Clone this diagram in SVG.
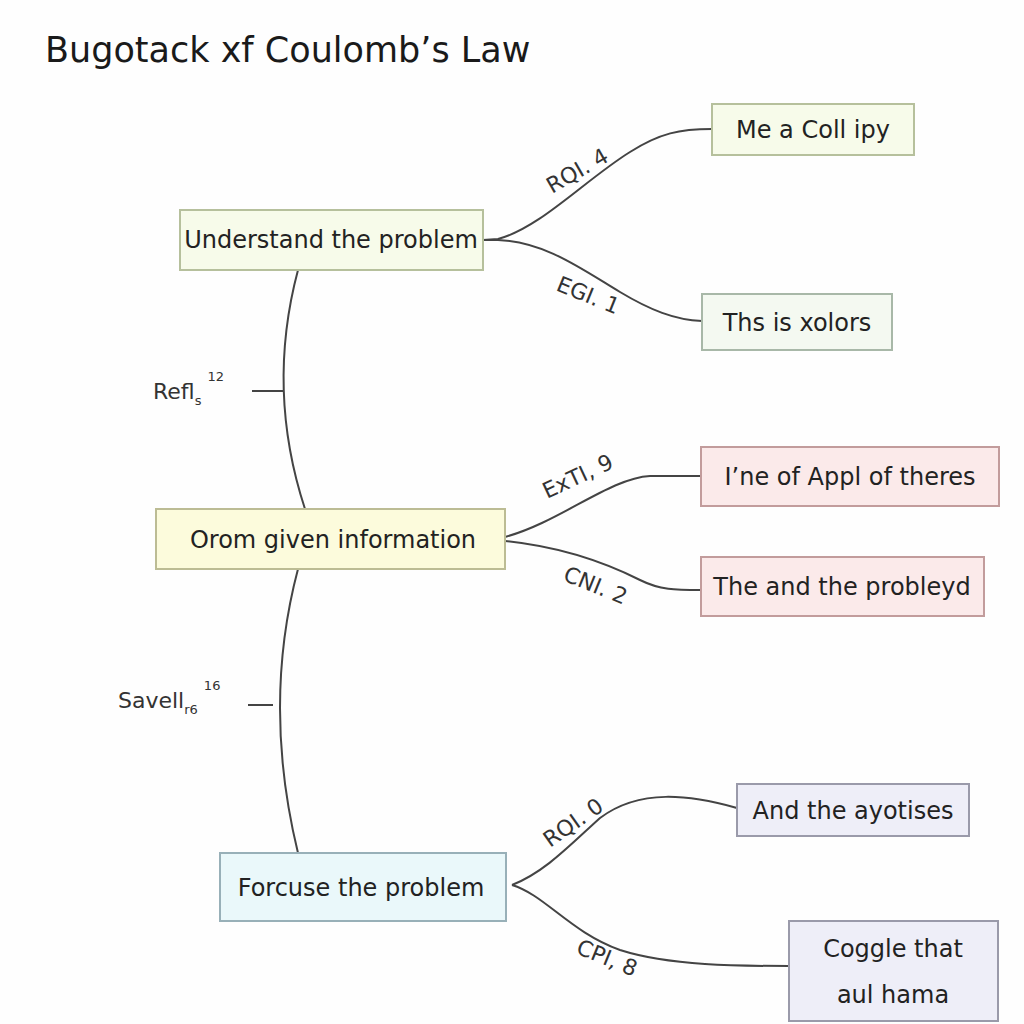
<svg xmlns="http://www.w3.org/2000/svg" width="1024" height="1024" viewBox="0 0 1024 1024">
<style>
.bg{fill:#fefefe}
.title{font-family:"DejaVu Sans","Liberation Sans",sans-serif;font-size:35px;fill:#1a1a1a}
.nt{font-family:"DejaVu Sans","Liberation Sans",sans-serif;font-size:24px;fill:#222;text-anchor:middle}
.lb{font-family:"DejaVu Sans","Liberation Sans",sans-serif;font-size:22px;fill:#333}
.sm{font-size:13px}
.c{fill:none;stroke:#444;stroke-width:2}
.y1{fill:#f7fbea;stroke:#b6c09c;stroke-width:2}
.y2{fill:#fcfbdc;stroke:#bcbc94;stroke-width:2}
.g{fill:#f4f9f1;stroke:#a8b8a8;stroke-width:2}
.r{fill:#fbeaea;stroke:#c29c9c;stroke-width:2}
.b{fill:#eaf8fa;stroke:#98b0b8;stroke-width:2}
.v{fill:#eeeef8;stroke:#9a9aaa;stroke-width:2}
</style>
<rect class="bg" x="0" y="0" width="1024" height="1024"/>
<text class="title" x="45" y="62">Bugotack xf Coulomb’s Law</text>

<g id="connectors">
<path class="c" d="M483 240 L498 239 C540 228 585 180 630 152 C660 133 680 129 712 129"/>
<path class="c" d="M483 240 L498 240 C545 242 580 268 620 292 C650 310 675 320 702 321"/>
<path class="c" d="M298 270 Q266 390 305 509"/>
<line class="c" x1="252" y1="391" x2="284" y2="391"/>
<path class="c" d="M505 537 C560 522 610 478 650 476 L701 476"/>
<path class="c" d="M505 541 C555 546 600 560 640 580 C660 590 675 590 701 590"/>
<path class="c" d="M298 569 Q262 705 298 853"/>
<line class="c" x1="248" y1="705" x2="273" y2="705"/>
<path class="c" d="M512 885 C545 872 570 845 600 818 C640 788 690 795 737 808"/>
<path class="c" d="M512 885 C545 895 570 932 620 950 C670 966 740 966 789 966"/>
</g>

<g id="labels">
<text class="lb" transform="translate(552,194) rotate(-30)">RQI. 4</text>
<text class="lb" transform="translate(555,290) rotate(22)">EGI. 1</text>
<text class="lb" x="153" y="399">Refl<tspan class="sm" dy="6">s</tspan><tspan class="sm" dx="6" dy="-24">12</tspan></text>
<text class="lb" transform="translate(547,499) rotate(-25)">ExTI, 9</text>
<text class="lb" transform="translate(562,580) rotate(22)">CNI. 2</text>
<text class="lb" x="118" y="708">Savell<tspan class="sm" dy="6">r6</tspan><tspan class="sm" dx="6" dy="-24">16</tspan></text>
<text class="lb" transform="translate(550,848) rotate(-35)">RQI. 0</text>
<text class="lb" transform="translate(575,953) rotate(22)">CPI, 8</text>
</g>

<g id="n1"><rect class="y1" x="180" y="210" width="303" height="60"/><text class="nt" x="331" y="248">Understand the problem</text></g>
<g id="n2"><rect class="y1" x="712" y="104" width="202" height="51"/><text class="nt" x="813" y="138">Me a Coll ipy</text></g>
<g id="n3"><rect class="g" x="702" y="294" width="190" height="56"/><text class="nt" x="797" y="331">Ths is xolors</text></g>
<g id="n4"><rect class="y2" x="156" y="509" width="349" height="60"/><text class="nt" x="333" y="548">Orom given information</text></g>
<g id="n5"><rect class="r" x="701" y="447" width="298" height="59"/><text class="nt" x="850" y="485">I’ne of Appl of theres</text></g>
<g id="n6"><rect class="r" x="701" y="557" width="283" height="59"/><text class="nt" x="842" y="595">The and the probleyd</text></g>
<g id="n7"><rect class="b" x="220" y="853" width="286" height="68"/><text class="nt" x="361" y="896">Forcuse the problem</text></g>
<g id="n8"><rect class="v" x="737" y="784" width="232" height="52"/><text class="nt" x="853" y="819">And the ayotises</text></g>
<g id="n9"><rect class="v" x="789" y="921" width="209" height="100"/><text class="nt" x="893" y="957">Coggle that</text><text class="nt" x="893" y="1003">aul hama</text></g>
</svg>
